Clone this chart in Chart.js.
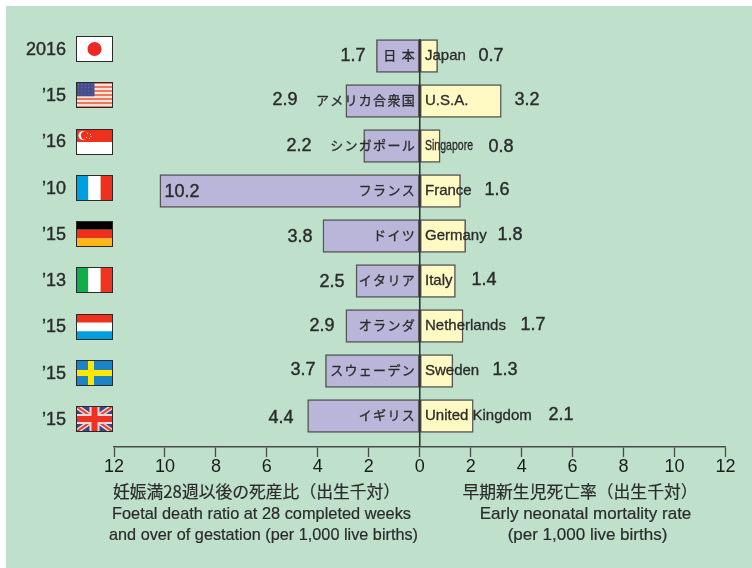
<!DOCTYPE html>
<html>
<head>
<meta charset="utf-8">
<style>
  html, body { margin: 0; padding: 0; background: #fff; overflow: hidden; }
  canvas { display: block; }
</style>
<script src="https://cdn.jsdelivr.net/npm/chart.js@4"></script>
</head>
<body>
<canvas id="chart" width="752" height="568"></canvas>
<script>
const namesJa = ['日 本', 'アメリカ合衆国', 'シンガポール', 'フランス', 'ドイツ', 'イタリア', 'オランダ', 'スウェーデン', 'イギリス'];
const namesEn = ['Japan', 'U.S.A.', 'Singapore', 'France', 'Germany', 'Italy', 'Netherlands', 'Sweden', 'United Kingdom'];
const years = ['2016', '’15', '’16', '’10', '’15', '’13', '’15', '’15', '’15'];
const foetal = [1.7, 2.9, 2.2, 10.2, 3.8, 2.5, 2.9, 3.7, 4.4];
const neonatal = [0.7, 3.2, 0.8, 1.6, 1.8, 1.4, 1.7, 1.3, 2.1];
const flags = ['jp', 'us', 'sg', 'fr', 'de', 'it', 'nl', 'se', 'gb'];

// the value labels sit by hand in the original, not at the bar ends
const foetalLabelX = [353, 285, 299, 182, 300, 332, 322, 303, 281];
const neonatalLabelX = [491, 527, 501, 497, 510, 484, 533, 505, 561];
const foetalLabelDy = [0, -1, 0, 1, 1, 1, 0, -1, 2];
const neonatalLabelDy = [0, -1, 1, -1, -1, -1, -1, -1, -1];

const panel = '#bfe1cb';
const ink = '#2b2b2b';
const line = '#4a4a4a';
const sans = '"Liberation Sans", Arial, sans-serif';
const cjk = '"Noto Sans CJK JP", sans-serif';

const red = '#f0301f', blue = '#00a0df', white = '#ffffff';

function put(ctx, str, x, y, font, align, maxWidth, spacing, weight) {
    ctx.font = font;
    ctx.textAlign = align;
    ctx.textBaseline = 'middle';
    ctx.fillStyle = ink;
    ctx.strokeStyle = ink;
    ctx.lineWidth = weight || 0;
    ctx.letterSpacing = spacing || '0px';
    if (maxWidth) {
        ctx.fillText(str, x, y, maxWidth);
        if (weight) ctx.strokeText(str, x, y, maxWidth);
    } else {
        ctx.fillText(str, x, y);
        if (weight) ctx.strokeText(str, x, y);
    }
    ctx.letterSpacing = '0px';
}

function bands(ctx, x, y, w, h, colors, vertical) {
    colors.forEach((c, i) => {
        ctx.fillStyle = c;
        if (vertical) ctx.fillRect(x + w * i / colors.length, y, w / colors.length, h);
        else ctx.fillRect(x, y + h * i / colors.length, w, h / colors.length);
    });
}

function drawFlag(ctx, code, x, y, w, h) {
    ctx.save();
    ctx.beginPath();
    ctx.rect(x, y, w, h);
    ctx.clip();
    if (code === 'jp') {
        ctx.fillStyle = white;
        ctx.fillRect(x, y, w, h);
        ctx.fillStyle = '#ee2724';
        ctx.beginPath();
        ctx.arc(x + w / 2, y + h / 2, 7, 0, Math.PI * 2);
        ctx.fill();
    } else if (code === 'us') {
        const stripes = [];
        for (let i = 0; i < 13; i++) stripes.push(i % 2 ? '#fde4da' : '#f2765c');
        bands(ctx, x, y, w, h, stripes);
        ctx.fillStyle = '#454c8f';
        ctx.fillRect(x, y, w / 2, h * 0.55);
        ctx.fillStyle = '#6f74ab';
        for (let r = 0; r < 4; r++) {
            for (let c = 0; c < 5; c++) ctx.fillRect(x + 2 + c * 3.4, y + 2 + r * 3.2, 1, 1);
        }
    } else if (code === 'sg') {
        bands(ctx, x, y, w, h, [red, white]);
        ctx.fillStyle = white;
        ctx.beginPath();
        ctx.arc(x + 7, y + 6.5, 4.5, 0, Math.PI * 2);
        ctx.fill();
        ctx.fillStyle = red;
        ctx.beginPath();
        ctx.arc(x + 9, y + 6.5, 4.2, 0, Math.PI * 2);
        ctx.fill();
        ctx.fillStyle = '#fbd0c8';
        [[11, 4], [14, 5], [10, 8], [13, 9], [14.5, 7]].forEach(p => ctx.fillRect(x + p[0], y + p[1], 1, 1));
    } else if (code === 'fr') {
        bands(ctx, x, y, w, h, [blue, white, red], true);
    } else if (code === 'de') {
        bands(ctx, x, y, w, h, ['#000000', red, '#ffb617']);
    } else if (code === 'it') {
        bands(ctx, x, y, w, h, ['#12ad4b', white, '#f1341f'], true);
    } else if (code === 'nl') {
        bands(ctx, x, y, w, h, [red, white, blue]);
    } else if (code === 'se') {
        ctx.fillStyle = '#1a84c7';
        ctx.fillRect(x, y, w, h);
        ctx.fillStyle = '#ffe800';
        ctx.fillRect(x + 12, y, 6, h);
        ctx.fillRect(x, y + 10, w, 6);
    } else if (code === 'gb') {
        ctx.fillStyle = '#3d4289';
        ctx.fillRect(x, y, w, h);
        ctx.lineWidth = 5;
        ctx.strokeStyle = '#f3d9d6';
        ctx.beginPath();
        ctx.moveTo(x, y);
        ctx.lineTo(x + w, y + h);
        ctx.moveTo(x + w, y);
        ctx.lineTo(x, y + h);
        ctx.stroke();
        ctx.lineWidth = 2;
        ctx.strokeStyle = '#e8412f';
        ctx.stroke();
        ctx.fillStyle = '#f3d9d6';
        ctx.fillRect(x + w / 2 - 5, y, 10, h);
        ctx.fillRect(x, y + h / 2 - 5, w, 10);
        ctx.fillStyle = '#ee3124';
        ctx.fillRect(x + w / 2 - 3, y, 6, h);
        ctx.fillRect(x, y + h / 2 - 3, w, 6);
    }
    ctx.restore();
    ctx.strokeStyle = '#2a2a2a';
    ctx.lineWidth = 1;
    ctx.strokeRect(x + 0.5, y + 0.5, w - 1, h - 1);
}

const paperPlugin = {
    id: 'paper',
    beforeDraw(chart) {
        const ctx = chart.ctx;
        ctx.save();
        ctx.fillStyle = panel;
        ctx.fillRect(6, 6, chart.width - 6, chart.height - 6);
        ctx.restore();
    }
};

const labelPlugin = {
    id: 'labels',
    afterDatasetsDraw(chart) {
        const ctx = chart.ctx;
        const xs = chart.scales.x, ys = chart.scales.y;
        const zero = xs.getPixelForValue(0);
        ctx.save();

        // centre line runs down into the axis
        ctx.strokeStyle = '#333';
        ctx.lineWidth = 1.6;
        ctx.beginPath();
        ctx.moveTo(zero, chart.chartArea.top);
        ctx.lineTo(zero, chart.chartArea.bottom);
        ctx.stroke();

        namesEn.forEach((name, i) => {
            const y = ys.getPixelForValue(i);
            put(ctx, namesJa[i], 416, y - 1, '13px ' + cjk, 'right', 0, '1.3px', 0.3);
            if (name === 'Singapore') put(ctx, name, 425, y, '14.5px ' + sans, 'left', 48, 0, 0.3);
            else put(ctx, name, 425, y, '15px ' + sans, 'left', 0, 0, 0.3);
            put(ctx, foetal[i].toFixed(1), foetalLabelX[i], y + foetalLabelDy[i], '18px ' + sans, 'center', 0, 0, 0.4);
            put(ctx, neonatal[i].toFixed(1), neonatalLabelX[i], y + neonatalLabelDy[i], '18px ' + sans, 'center', 0, 0, 0.4);

            // flags and years keep their own, slightly wider rhythm
            const flagY = 49 + 46.25 * i;
            drawFlag(ctx, flags[i], 76, Math.round(flagY - 13), 37, 26);
            put(ctx, years[i], 66, flagY + 1, '18px ' + sans, 'right', 0, 0, 0.4);
        });

        put(ctx, '妊娠満28週以後の死産比（出生千対）', 256.5, 492, '16.8px ' + cjk, 'center', 288, 0, 0.2);
        put(ctx, 'Foetal death ratio at 28 completed weeks', 261.5, 514, '17px ' + sans, 'center', 299, 0, 0.2);
        put(ctx, 'and over of gestation (per 1,000 live births)', 263.5, 535, '17px ' + sans, 'center', 309, 0, 0.2);
        put(ctx, '早期新生児死亡率（出生千対）', 580, 492, '16.8px ' + cjk, 'center', 235, 0, 0.2);
        put(ctx, 'Early neonatal mortality rate', 585.5, 514, '17px ' + sans, 'center', 225, 0, 0.2);
        put(ctx, '(per 1,000 live births)', 587.5, 535, '17px ' + sans, 'center', 167, 0, 0.2);
        ctx.restore();
    }
};

const data = {
    datasets: [{
        label: 'Foetal death ratio',
        data: foetal.map((v, i) => ({x: -v, y: i})),
        backgroundColor: '#bab6d9',
        borderColor: '#555',
        borderWidth: 1.5,
        borderSkipped: false,
        barThickness: 33,
        grouped: false
    }, {
        label: 'Early neonatal mortality rate',
        data: neonatal.map((v, i) => ({x: v, y: i})),
        backgroundColor: '#fff9c4',
        borderColor: '#555',
        borderWidth: 1.5,
        borderSkipped: false,
        barThickness: 33,
        grouped: false
    }]
};

const config = {
    type: 'bar',
    data,
    options: {
        indexAxis: 'y',
        responsive: false,
        animation: false,
        layout: {
            padding: {left: 114, right: 26.5, top: 39, bottom: 0}
        },
        scales: {
            x: {
                type: 'linear',
                min: -12,
                max: 12,
                afterFit: scale => { scale.height = 121; },
                border: {color: line, width: 1.6},
                grid: {
                    drawOnChartArea: false,
                    drawTicks: true,
                    tickLength: 10,
                    tickWidth: 1.3,
                    tickColor: line
                },
                ticks: {
                    stepSize: 2,
                    autoSkip: false,
                    maxRotation: 0,
                    padding: -1,
                    color: '#1c1c1c',
                    font: {size: 18, family: sans},
                    callback: v => Math.abs(v)
                }
            },
            y: {
                type: 'linear',
                display: false,
                offset: false,
                reverse: true,
                min: -0.378,
                max: 8.689
            }
        },
        plugins: {
            legend: {display: false},
            tooltip: {enabled: false}
        }
    },
    plugins: [paperPlugin, labelPlugin]
};

new Chart(document.getElementById('chart'), config);
</script>
</body>
</html>
